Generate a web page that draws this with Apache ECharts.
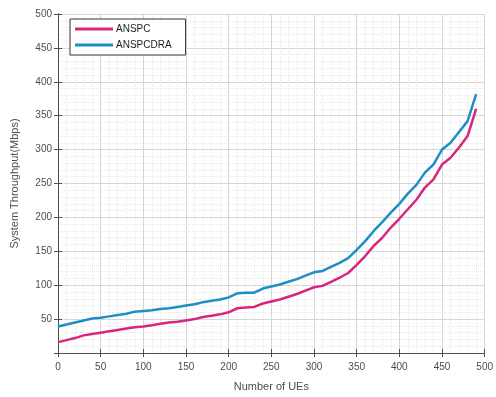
<!DOCTYPE html>
<html>
<head>
<meta charset="utf-8">
<script src="https://cdn.jsdelivr.net/npm/echarts@6/dist/echarts.min.js"></script>
<style>
  html, body { margin: 0; padding: 0; background: #fff; }
  #chart { width: 496px; height: 397px; }
</style>
</head>
<body>
<div id="chart"></div>
<script>
// number of UEs (x values)
const ues = [0, 10, 20, 30, 40, 50, 60, 70, 80, 90, 100, 110, 120, 130, 140, 150, 160, 170, 180, 190,
  200, 210, 220, 230, 240, 250, 260, 270, 280, 290, 300, 310, 320, 330, 340, 350, 360, 370, 380, 390,
  400, 410, 420, 430, 440, 450, 460, 470, 480, 490];
// system throughput (Mbps)
const anspc = [16, 19, 22, 26, 28, 30, 32, 34, 36, 38, 39, 41, 43, 45, 46, 48, 50, 53, 55, 57,
  60, 66, 67, 68, 73, 76, 79, 83, 87, 92, 97, 99, 105, 111, 118, 130, 143, 158, 170, 185,
  198, 212, 226, 244, 256, 278, 288, 303, 320, 360];
const anspcdra = [39, 42, 45, 48, 51, 52, 54, 56, 58, 61, 62, 63, 65, 66, 68, 70, 72, 75, 77, 79,
  82, 88, 89, 89, 95, 98, 101, 105, 109, 114, 119, 121, 127, 133, 140, 152, 165, 180, 193, 207,
  220, 235, 248, 266, 278, 300, 310, 326, 342, 382];
const seriesNames = ['ANSPC', 'ANSPCDRA'];
const xTicks = { min: 0, max: 500, interval: 50 };
const yTicks = { min: 0, max: 500, interval: 50 };

const chart = echarts.init(document.getElementById('chart'));

const font = 'Liberation Sans, Arial, sans-serif';
const axisColor = '#4d4d4d';
const gridLine = { show: true, lineStyle: { color: '#d6d6d6', width: 1 } };
const minorLine = { show: true, lineStyle: { color: '#e8e8e8', width: 1, type: [1, 1] } };

const pair = (xs, ys) => xs.map((x, i) => [x, ys[i]]);

const option = {
  animation: false,
  grid: { left: 58, right: 10, top: 14, bottom: 43 },
  legend: {
    data: seriesNames,
    orient: 'vertical',
    left: 70,
    top: 19,
    padding: [5, 14, 5, 5],
    itemGap: 6,
    itemWidth: 38,
    itemHeight: 3,
    icon: 'rect',
    backgroundColor: '#fff',
    borderColor: '#333',
    borderWidth: 1,
    borderRadius: 0,
    textStyle: { fontFamily: font, fontSize: 10, color: '#222', padding: [0, 0, 0, -2] }
  },
  xAxis: [{
    type: 'value',
    min: xTicks.min, max: xTicks.max, interval: xTicks.interval,
    name: 'Number of UEs',
    nameLocation: 'middle',
    nameGap: 28,
    nameTextStyle: { fontFamily: font, fontSize: 11, color: axisColor },
    axisLine: { show: true, onZero: false, lineStyle: { color: axisColor } },
    axisTick: { show: true, inside: true, length: 4, lineStyle: { color: axisColor } },
    axisLabel: { fontFamily: font, fontSize: 10, color: axisColor, margin: 9 },
    splitLine: gridLine,
    minorTick: { show: true, splitNumber: 5, length: 0 },
    minorSplitLine: minorLine
  }, {
    type: 'value', position: 'top',
    min: xTicks.min, max: xTicks.max, interval: xTicks.interval,
    axisLine: { show: true, lineStyle: { color: axisColor } },
    axisTick: { show: true, inside: true, length: 4, lineStyle: { color: axisColor } },
    axisLabel: { show: false },
    splitLine: { show: false }
  }],
  yAxis: [{
    type: 'value',
    min: yTicks.min, max: yTicks.max, interval: yTicks.interval,
    name: 'System Throughput(Mbps)',
    nameLocation: 'middle',
    nameGap: 38,
    nameTextStyle: { fontFamily: font, fontSize: 11, color: axisColor },
    axisLine: { show: true, onZero: false, lineStyle: { color: axisColor } },
    axisTick: { show: true, inside: true, length: 4, lineStyle: { color: axisColor } },
    axisLabel: {
      fontFamily: font, fontSize: 10, color: axisColor, margin: 6,
      formatter: v => (v === 0 ? '' : v)
    },
    splitLine: gridLine,
    minorTick: { show: true, splitNumber: 5, length: 0 },
    minorSplitLine: minorLine
  }, {
    type: 'value', position: 'right',
    min: yTicks.min, max: yTicks.max, interval: yTicks.interval,
    axisLine: { show: true, lineStyle: { color: axisColor } },
    axisTick: { show: true, inside: true, length: 4, lineStyle: { color: axisColor } },
    axisLabel: { show: false },
    splitLine: { show: false }
  }],
  series: [{
    name: seriesNames[0],
    type: 'line',
    data: pair(ues, anspc),
    symbol: 'none',
    lineStyle: { color: '#d8267e', width: 2.5 },
    itemStyle: { color: '#d8267e' }
  }, {
    name: seriesNames[1],
    type: 'line',
    data: pair(ues, anspcdra),
    symbol: 'none',
    lineStyle: { color: '#1f8ec6', width: 2.5 },
    itemStyle: { color: '#1f8ec6' }
  }]
};

chart.setOption(option);
</script>
</body>
</html>
